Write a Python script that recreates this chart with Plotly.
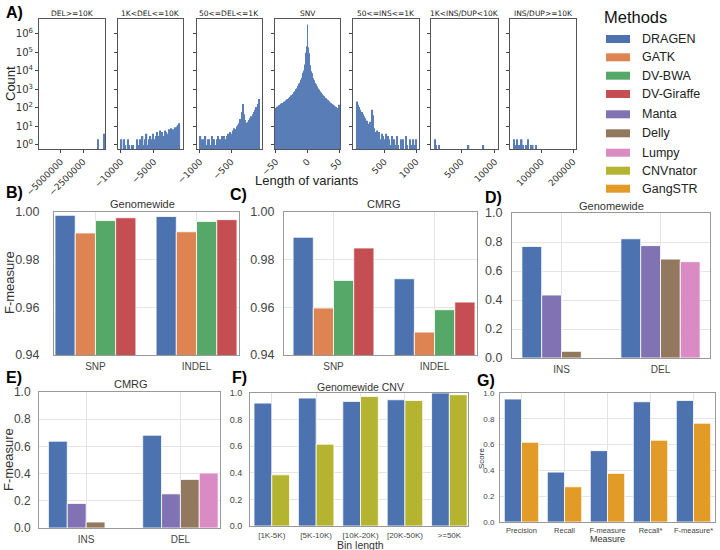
import plotly.graph_objects as go

# ---------------- data ----------------
methods = ["DRAGEN", "GATK", "DV-BWA", "DV-Giraffe", "Manta", "Delly", "Lumpy", "CNVnator", "GangSTR"]
method_colors = ["#4c72b0", "#dd8452", "#55a868", "#c44e52", "#8172b3", "#937860", "#da8bc3", "#b4b431", "#e39b27"]

# Panel A: histogram bin counts (bin start, bin width, counts)
hist_titles = ["DEL>=10K", "1K<DEL<=10K", "50<=DEL<=1K", "SNV", "50<=INS<=1K", "1K<INS/DUP<10K", "INS/DUP>=10K"]
del10k_start, del10k_width = -1000000, 100000
del10k_counts = [0, 2, 0, 0, 0, 0, 0, 0, 4, 0]
del1k_start, del1k_width = -10000, 200
del1k_counts = [2, 0, 2, 1, 0, 2, 1, 0, 1, 1, 0, 0, 2, 1, 2, 1, 3, 1, 2, 4,
                1, 2, 3, 2, 4, 2, 3, 5, 3, 6, 4, 5, 3, 6, 5, 4, 7, 5, 8, 7,
                6, 9, 10, 12, 15]
del50_start, del50_width = -1000, 20
del50_counts = [3, 2, 1, 2, 3, 1, 2, 2, 1, 3, 2, 2, 1, 2, 3, 2, 2, 3, 2, 3,
                2, 3, 4, 3, 5, 4, 6, 8, 7, 10, 12, 15, 25, 60, 160, 45, 22, 16, 18, 22,
                28, 35, 45, 60, 80, 110, 160, 300]
snv_start, snv_width = -50.5, 1
snv_counts = [100, 95, 115, 120, 135, 130, 150, 145, 165, 160, 185, 180, 200, 215, 220, 245, 250, 270, 290, 300,
              330, 345, 390, 400, 460, 480, 540, 570, 650, 700, 800, 880, 1000, 1150, 1300, 1500, 1700, 2000, 2300, 2700,
              3300, 4300, 6000, 8000, 10500, 14000, 22000, 46000, 95000, 210000,
              3200000,
              190000, 88000, 42000, 20000, 13000, 9500, 7500, 5600, 4000, 3100, 2600, 2200, 1900, 1600, 1450, 1250, 1100, 960, 860, 760,
              680, 620, 560, 500, 460, 420, 390, 350, 330, 300, 280, 260, 245, 225, 210, 195, 180, 170, 160, 150,
              140, 135, 125, 120, 112, 105, 100, 95, 90, 150]
ins50_start, ins50_width = 50, 20
ins50_counts = [220, 150, 110, 80, 60, 45, 35, 28, 20, 14, 12, 18, 80, 40, 8, 5, 6, 3, 5, 2,
                4, 3, 2, 4, 1, 3, 2, 1, 3, 0, 2, 1, 3, 1, 0, 2, 1, 2, 0, 3,
                1, 0, 2, 1, 0, 2, 1, 2]
ins1k_start, ins1k_width = 1000, 200
ins1k_counts = [2, 1, 0, 1, 0, 0, 0, 0, 0, 0, 0, 0, 0, 0, 0, 0, 0, 0, 0, 0,
                0, 0, 0, 0, 0, 1, 0, 0, 0, 0, 0, 0, 0, 0, 0, 0, 1, 0, 0, 0,
                0, 0, 0, 0, 0]
ins10k_start, ins10k_width = 10000, 5000
ins10k_counts = [2, 1, 2, 1, 1, 2, 1, 0, 1, 2, 0, 1, 1, 0, 1, 0, 0, 0, 0, 0,
                 0, 0, 0, 0, 0, 0, 0, 0, 0, 0, 0, 0, 0, 0, 0, 0, 0, 0]

# Panel B / C: small variants F-measure
small_cats = ["SNP", "INDEL"]
b_dragen = [0.9986, 0.9981]
b_gatk = [0.9912, 0.9917]
b_dvbwa = [0.9964, 0.9960]
b_dvgiraffe = [0.9976, 0.9968]
c_dragen = [0.9894, 0.9720]
c_gatk = [0.9597, 0.9496]
c_dvbwa = [0.9713, 0.9590]
c_dvgiraffe = [0.9849, 0.9622]

# Panel D / E: SV F-measure
sv_cats = ["INS", "DEL"]
d_dragen = [0.769, 0.822]
d_manta = [0.434, 0.775]
d_delly = [0.046, 0.682]
d_lumpy = [0.0, 0.664]
e_dragen = [0.638, 0.682]
e_manta = [0.180, 0.251]
e_delly = [0.044, 0.357]
e_lumpy = [0.0, 0.404]

# Panel F: CNV
cnv_cats = ["[1K-5K)", "[5K-10K)", "[10K-20K)", "[20K-50K)", ">=50K"]
f_dragen = [0.924, 0.962, 0.937, 0.949, 1.0]
f_cnvnator = [0.385, 0.615, 0.974, 0.944, 0.987]

# Panel G: STR
str_cats = ["Precision", "Recall", "F-measure", "Recall*", "F-measure*"]
g_dragen = [0.953, 0.387, 0.553, 0.932, 0.942]
g_gangstr = [0.618, 0.273, 0.377, 0.634, 0.766]

# ---------------- figure ----------------
W, H = 720, 550
COL = dict(zip(methods, method_colors))
SANS = "Liberation Sans, Arial, sans-serif"
DJ = "DejaVu Sans, sans-serif"


def px(x):
    return x / W


def py(y):
    return 1 - y / H


def xd(a, b):
    return [px(a), px(b)]


def yd(t, b):
    return [py(b), py(t)]


fig = go.Figure()
lay = {}
ann = []
shapes = []


def akey(prefix, n):
    return prefix if n == 1 else f"{prefix}{n}"


def txt(s, x, y, size, family=SANS, angle=0, bold=False, anchor="center", color="#222"):
    ann.append(dict(text=f"<b>{s}</b>" if bold else s, x=px(x), y=py(y), xref="paper", yref="paper",
                    showarrow=False, textangle=angle, xanchor=anchor, yanchor="middle",
                    font=dict(family=family, size=size, color=color)))


# Panel A
hist_specs = [
    (del10k_start, del10k_width, del10k_counts, [-7.4e6, -0.08e6], [-5000000, -2500000], ["\u22125000000", "\u22122500000"]),
    (del1k_start, del1k_width, del1k_counts, [-10450, -550], [-10000, -5000], ["\u221210000", "\u22125000"]),
    (del50_start, del50_width, del50_counts, [-1047.5, -2.5], [-1000, -500], ["\u22121000", "\u2212500"]),
    (snv_start, snv_width, snv_counts, [-51.5, 51.5], [-50, 0, 50], ["\u221250", "0", "50"]),
    (ins50_start, ins50_width, ins50_counts, [2.5, 1047.5], [500, 1000], ["500", "1000"]),
    (ins1k_start, ins1k_width, ins1k_counts, [550, 10450], [5000, 10000], ["5000", "10000"]),
    (ins10k_start, ins10k_width, ins10k_counts, [500, 209500], [100000, 200000], ["100000", "200000"]),
]
A_X = [(39, 105), (118, 183), (197, 262), (275, 340), (353, 419), (431, 498), (510, 576)]
decades = [1, 10, 100, 1000, 10000, 100000, 1000000]
for i, (start, width, counts, xr, tv, tt) in enumerate(hist_specs):
    n = i + 1
    xs = [start + width * (k + 0.5) for k in range(len(counts))]
    ys = [c if c > 0 else None for c in counts]
    fig.add_trace(go.Bar(x=xs, y=ys, width=width, marker=dict(color=method_colors[0], line=dict(width=0)),
                         opacity=0.92, xaxis=f"x{n}", yaxis=f"y{n}", showlegend=False, hoverinfo="skip"))
    lay[akey("xaxis", n)] = dict(domain=xd(*A_X[i]), anchor=f"y{n}", range=xr, tickmode="array", tickvals=tv,
                                 ticktext=tt, tickangle=-45, ticks="outside", ticklen=3, tickcolor="#444",
                                 showline=True, mirror=True, linecolor="#555", linewidth=1, showgrid=False,
                                 zeroline=False, automargin=False, tickfont=dict(family=DJ, size=9, color="#333"))
    yax = dict(domain=yd(19, 149), anchor=f"x{n}", type="log", range=[-0.22, 6.8],
               tickmode="array", tickvals=decades, ticks="outside", ticklen=3, tickcolor="#444",
               showline=True, mirror=True, linecolor="#555", linewidth=1, showgrid=False,
               zeroline=False, automargin=False, tickfont=dict(family=DJ, size=10, color="#333"))
    if i == 0:
        yax["ticktext"] = [f"10<sup>{p}</sup>" for p in range(7)]
    else:
        yax["showticklabels"] = False
    lay[akey("yaxis", n)] = yax
    txt(hist_titles[i], (A_X[i][0] + A_X[i][1]) / 2, 13, 7.5, family=DJ)


def bar_panel(n, cats, series, xr, yr, ytv, ytt, dx, dy, xfs, yfs, xstand=2, ystand=6):
    k = len(series)
    w = 0.8 / k
    for j, (name, vals) in enumerate(series):
        fig.add_trace(go.Bar(x=cats, y=vals, width=w, offset=-0.4 + j * w,
                             marker=dict(color=COL[name], line=dict(color="white", width=0.8)),
                             xaxis=f"x{n}", yaxis=f"y{n}", showlegend=False, name=name))
    lay[akey("xaxis", n)] = dict(domain=xd(*dx), anchor=f"y{n}", type="category", range=xr,
                                 showline=True, mirror=True, linecolor="#999", linewidth=1,
                                 showgrid=True, gridcolor="#e4e4e4", ticks="", zeroline=False,
                                 automargin=False, ticklabelstandoff=xstand,
                                 tickfont=dict(family=SANS, size=xfs, color="#444"))
    lay[akey("yaxis", n)] = dict(domain=yd(*dy), anchor=f"x{n}", range=yr, tickmode="array",
                                 tickvals=ytv, ticktext=ytt, showline=True, mirror=True, linecolor="#999",
                                 linewidth=1, showgrid=True, gridcolor="#e4e4e4", ticks="", zeroline=False,
                                 automargin=False, ticklabelstandoff=ystand,
                                 tickfont=dict(family=SANS, size=yfs, color="#444"))


fm_ticks = [0.94, 0.96, 0.98, 1.00]
fm_text = ["0.94", "0.96", "0.98", "1.00"]
u_ticks = [0, 0.2, 0.4, 0.6, 0.8, 1.0]
u_text = ["0.0", "0.2", "0.4", "0.6", "0.8", "1.0"]

bar_panel(8, small_cats, [("DRAGEN", b_dragen), ("GATK", b_gatk), ("DV-BWA", b_dvbwa), ("DV-Giraffe", b_dvgiraffe)],
          [-0.41, 1.42], [0.94, 1.0], fm_ticks, fm_text, (54, 239), (212, 355), 10, 12.5, ystand=11)
bar_panel(9, small_cats, [("DRAGEN", c_dragen), ("GATK", c_gatk), ("DV-BWA", c_dvbwa), ("DV-Giraffe", c_dvgiraffe)],
          [-0.49, 1.42], [0.94, 1.0], fm_ticks, fm_text, (284, 477), (212, 355), 10, 12.5, ystand=6)
bar_panel(10, sv_cats, [("DRAGEN", d_dragen), ("Manta", d_manta), ("Delly", d_delly), ("Lumpy", d_lumpy)],
          [-0.5, 1.5], [0, 1.0], u_ticks, u_text, (512, 710), (213, 358), 10, 12.5, ystand=6)
bar_panel(11, sv_cats, [("DRAGEN", e_dragen), ("Manta", e_manta), ("Delly", e_delly), ("Lumpy", e_lumpy)],
          [-0.5, 1.42], [0, 1.0], u_ticks, u_text, (39, 220), (392, 528), 10, 12, ystand=5)
bar_panel(12, cnv_cats, [("DRAGEN", f_dragen), ("CNVnator", f_cnvnator)],
          [-0.49, 4.42], [0, 1.0], u_ticks, u_text, (250, 468), (393, 526), 8, 9, xstand=1, ystand=5)
bar_panel(13, str_cats, [("DRAGEN", g_dragen), ("GangSTR", g_gangstr)],
          [-0.5, 4.5], [0, 1.0], u_ticks, u_text, (500, 715), (393, 522), 7.5, 8, xstand=1, ystand=3)

# axis titles / panel titles
txt("Count", 11, 84, 13, angle=-90)
txt("Length of variants", 307, 180, 13)
txt("Genomewide", 142, 204, 11, color="#333")
txt("CMRG", 384, 204, 11, color="#333")
txt("Genomewide", 611, 206, 11, color="#333")
txt("CMRG", 131, 384, 11, color="#333")
txt("Genomewide CNV", 360, 387, 10.5, color="#333")
txt("F-measure", 9, 283, 13, angle=-90, color="#333")
txt("F-measure", 9, 460, 13, angle=-90, color="#333")
txt("Bin length", 360, 545, 10.5, color="#333")
txt("Measure", 607, 539, 9, color="#333")
txt("Score", 481, 458, 8, angle=-90, color="#333")

# panel letters
for s, x, y in [("A)", 14, 12), ("B)", 14, 193), ("C)", 238, 195), ("D)", 493, 197),
                ("E)", 14, 377), ("F)", 239, 377), ("G)", 486, 380)]:
    txt(s, x, y, 16, bold=True, color="#000")

# legend
txt("Methods", 602, 17, 16.5, anchor="left", color="#111")
leg_y = [39, 57.3, 75.7, 94, 114.3, 133.3, 152.7, 170.7, 188.7]
for name, col, yy in zip(methods, method_colors, leg_y):
    shapes.append(dict(type="rect", xref="paper", yref="paper", x0=px(606), x1=px(630),
                       y0=py(yy + 4), y1=py(yy - 4), fillcolor=col, line=dict(width=0)))
    txt(name, 640, yy, 12.5, anchor="left", color="#222")

fig.update_layout(**lay)
fig.update_layout(width=W, height=H, margin=dict(l=0, r=0, t=0, b=0, autoexpand=False), autosize=False,
                  paper_bgcolor="white", plot_bgcolor="white", barmode="overlay",
                  annotations=ann, shapes=shapes, font=dict(family=SANS))
# remove the browser's default 8px page margin so the 720x550 figure fills the window exactly
fig.write_html("out.html", config={"displayModeBar": False},
               post_script="document.body.style.margin='0';")
